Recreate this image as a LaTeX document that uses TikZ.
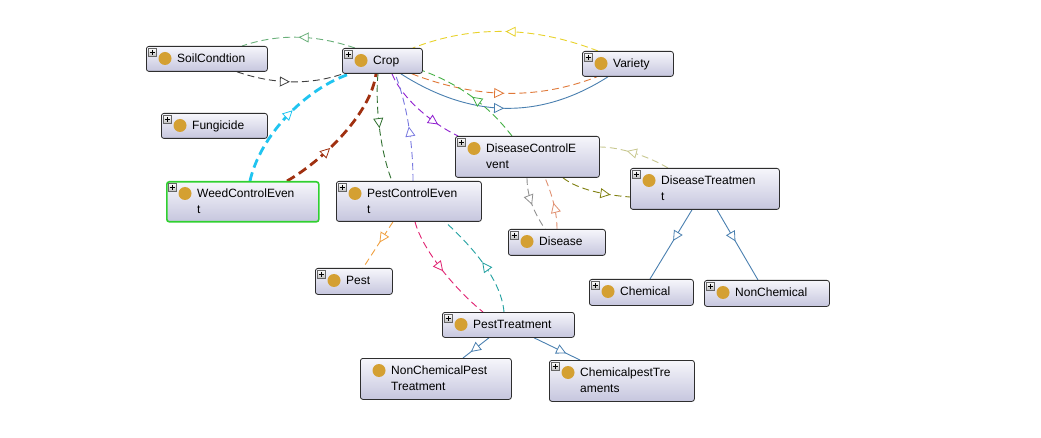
\documentclass[tikz,border=0pt]{standalone}
\usepackage{fontspec}
\setmainfont{Liberation Sans}
\usetikzlibrary{arrows.meta,decorations.markings}
\definecolor{boxtop}{HTML}{F6F6FB}
\definecolor{boxbot}{HTML}{C6C6DE}
\definecolor{boxborder}{HTML}{2E2E2E}
\definecolor{dotc}{HTML}{D4A032}
\definecolor{cSoilA}{HTML}{6AB07A}
\definecolor{cSoilB}{HTML}{404040}
\definecolor{cYel}{HTML}{E8D22A}
\definecolor{cOra}{HTML}{E07838}
\definecolor{cBlue}{HTML}{4A80B0}
\definecolor{cGrn}{HTML}{44B044}
\definecolor{cPur}{HTML}{9020D0}
\definecolor{cLav}{HTML}{7878E0}
\definecolor{cDGr}{HTML}{307030}
\definecolor{cBrn}{HTML}{A03010}
\definecolor{cCya}{HTML}{20C4F0}
\definecolor{cLOl}{HTML}{C8C890}
\definecolor{cOli}{HTML}{808010}
\definecolor{cGry}{HTML}{909090}
\definecolor{cTan}{HTML}{E09070}
\definecolor{cPOr}{HTML}{F0A040}
\definecolor{cMag}{HTML}{E02070}
\definecolor{cTea}{HTML}{20A0A0}
\definecolor{cWeed}{HTML}{30D030}
\pgfdeclarelayer{back}
\pgfdeclarelayer{bg}
\pgfsetlayers{back,bg,main}
\tikzset{
  clsbox/.style={draw=boxborder, rounded corners=2.5pt, top color=boxtop, bottom color=boxbot,
    line width=0.8pt, inner sep=0pt, anchor=north west},
  clstext/.style={font=\fontsize{12}{15.5}\selectfont, anchor=base west, inner sep=0pt, align=left, text=black},
  clsdot/.style={circle, fill=dotc, minimum size=13pt, inner sep=0pt},
  plusbox/.style={draw=black!60, top color=white, bottom color=black!25, minimum size=8pt, inner sep=0pt,
    line width=0.4pt, anchor=north west},
  conn/.style={line width=0.9pt, dash pattern=on 7pt off 4pt},
  thickconn/.style={line width=2.8pt, dash pattern=on 9pt off 5pt},
  solidconn/.style={line width=0.9pt},
  mid/.style={decoration={markings, mark=at position #1 with
      {\arrow{Triangle[fill=white, line width=0.8pt, length=10pt, width=10pt]}}}, postaction={decorate}},
  mid/.default=0.5
}
% [style] name x y w h text plus lines
\newcommand\ogcls[9][]{%
  \node[clsbox, minimum width=#5pt, minimum height=#6pt, #1] (#2) at (#3,#4) {};
  \node[clsdot] (#2-d) at (#3+19,#4+12.5) {};
  \node[clstext] (#2-t) at (#3+31,#4+16.7+15.5*#9-15.5) {#7};
  \ifnum#8=1
    \node[plusbox] (#2-p) at (#3+2,#4+2) {};
    \draw[line width=0.6pt] ([xshift=1.6pt]#2-p.west) -- ([xshift=-1.6pt]#2-p.east);
    \draw[line width=0.6pt] ([yshift=-1.6pt]#2-p.north) -- ([yshift=1.6pt]#2-p.south);
  \fi
}
\begin{document}
\begin{tikzpicture}[x=1pt,y=-1pt]
\begin{pgfonlayer}{back}
\fill[white] (0,0) rectangle (1041,438);
\end{pgfonlayer}
\useasboundingbox (0,0) rectangle (1041,438);

\ogcls{soil}{146}{46}{121}{25}{SoilCondtion}{1}{1}
\ogcls{crop}{342}{48}{80}{25}{Crop}{1}{1}
\ogcls{fung}{161}{113}{106}{25}{Fungicide}{1}{1}
\ogcls{variety}{582}{51}{91}{25}{Variety}{1}{1}
\ogcls{dce}{455}{136}{144}{41}{DiseaseControlE\\vent}{1}{2}
\ogcls{dt}{630}{168}{149}{41}{DiseaseTreatmen\\t}{1}{2}
\ogcls{disease}{508}{229}{97}{26}{Disease}{1}{1}
\ogcls{chem}{589}{279}{104}{26}{Chemical}{1}{1}
\ogcls{nonchem}{704}{280}{125}{26}{NonChemical}{1}{1}
\ogcls[draw=cWeed, line width=1.6pt]{weed}{166}{181}{152}{40}{WeedControlEven\\t}{1}{2}
\ogcls{pce}{336}{181}{145}{40}{PestControlEven\\t}{1}{2}
\ogcls{pest}{315}{268}{77}{26}{Pest}{1}{1}
\ogcls{pt}{442}{312}{132}{25}{PestTreatment}{1}{1}
\ogcls{ncpt}{360}{358}{151}{41}{NonChemicalPest\\Treatment}{0}{2}
\ogcls{cpt}{549}{360}{145}{41}{ChemicalpestTre\\aments}{1}{2}

\begin{pgfonlayer}{bg}
% Crop <-> SoilCondtion
\draw[conn, color=cSoilA, mid] ([xshift=13pt]crop.north west) .. controls +(-38,-13) and +(38,-13) .. ([xshift=96pt]soil.north west);
\draw[conn, color=cSoilB, mid] ([xshift=91pt]soil.south west) .. controls +(35,12) and +(-35,12) .. ([xshift=1pt]crop.south west);
% Crop <-> Variety
\draw[conn, color=cYel, mid] ([xshift=16pt]variety.north west) .. controls +(-62,-24) and +(62,-24) .. ([xshift=-10pt]crop.north east);
\draw[conn, color=cOra, mid] ([xshift=-11pt]crop.south east) .. controls +(62,24) and +(-62,24) .. ([xshift=15pt]variety.south west);
\draw[solidconn, color=cBlue, mid] ([xshift=-22pt]crop.south east) .. controls +(69,44) and +(-69,44) .. ([xshift=26pt]variety.south west);
% DiseaseControlEvent <-> Crop
\draw[conn, color=cGrn, mid] ([xshift=57pt]dce.north west) .. controls +(-24,-31) and +(36,13) .. ([yshift=3pt]crop.south east);
\draw[conn, color=cPur, mid=0.75] ([xshift=50pt]crop.south west) .. controls +(10,25) and +(-25,-12) .. ([xshift=3pt]dce.north west);
% PestControlEvent <-> Crop
\draw[conn, color=cLav, mid] ([xshift=77pt]pce.north west) .. controls +(0,-50) and +(8,20) .. ([xshift=53pt]crop.south west);
\draw[conn, color=cDGr, mid] ([xshift=36pt]crop.south west) .. controls +(-3,30) and +(-12,-30) .. ([xshift=56pt]pce.north west);
% WeedControlEvent -> Crop
\draw[thickconn, color=cBrn, mid=0.38] ([xshift=121pt]weed.north west) .. controls +(35,-20) and +(-5,40) .. ([xshift=34pt]crop.south west);
\draw[thickconn, color=cCya, mid=0.55] ([xshift=84pt]weed.north west) .. controls +(10,-45) and +(-45,15) .. ([xshift=8pt]crop.south west);
% DiseaseTreatment <-> DiseaseControlEvent
\draw[conn, color=cLOl, mid=0.62] ([xshift=38pt]dt.north west) .. controls +(-20,-12) and +(20,0) .. ([yshift=-11pt]dce.north east);
\draw[conn, color=cOli, mid=0.72] ([xshift=108pt]dce.south west) .. controls +(15,12) and +(-25,-2) .. ([yshift=-29pt]dt.north west);
% Disease <-> DiseaseControlEvent
\draw[conn, color=cGry, mid] ([xshift=72pt]dce.south west) .. controls +(0,20) and +(-10,-15) .. ([xshift=37pt]disease.north west);
\draw[conn, color=cTan, mid] ([xshift=49pt]disease.north west) .. controls +(0,-20) and +(5,12) .. ([xshift=90pt]dce.south west);
% DiseaseTreatment subclasses
\draw[solidconn, color=cBlue, mid=0.45] ([xshift=62pt]dt.south west) -- ([xshift=61pt]chem.north west);
\draw[solidconn, color=cBlue, mid=0.45] ([xshift=87pt]dt.south west) -- ([xshift=54pt]nonchem.north west);
% PestControlEvent relations
\draw[conn, color=cPOr, mid=0.45] ([xshift=57pt]pce.south west) -- ([xshift=48pt]pest.north west);
\draw[conn, color=cMag, mid] ([xshift=79pt]pce.south west) .. controls +(8,30) and +(-25,-20) .. ([xshift=41pt]pt.north west);
\draw[conn, color=cTea, mid] ([xshift=62pt]pt.north west) .. controls +(-3,-35) and +(22,20) .. ([xshift=109pt]pce.south west);
% PestTreatment subclasses
\draw[solidconn, color=cBlue, mid=0.7] ([xshift=47pt]pt.south west) -- ([xshift=103pt]ncpt.north west);
\draw[solidconn, color=cBlue, mid=0.7] ([xshift=92pt]pt.south west) -- ([xshift=31pt]cpt.north west);
\end{pgfonlayer}
\end{tikzpicture}
\end{document}
